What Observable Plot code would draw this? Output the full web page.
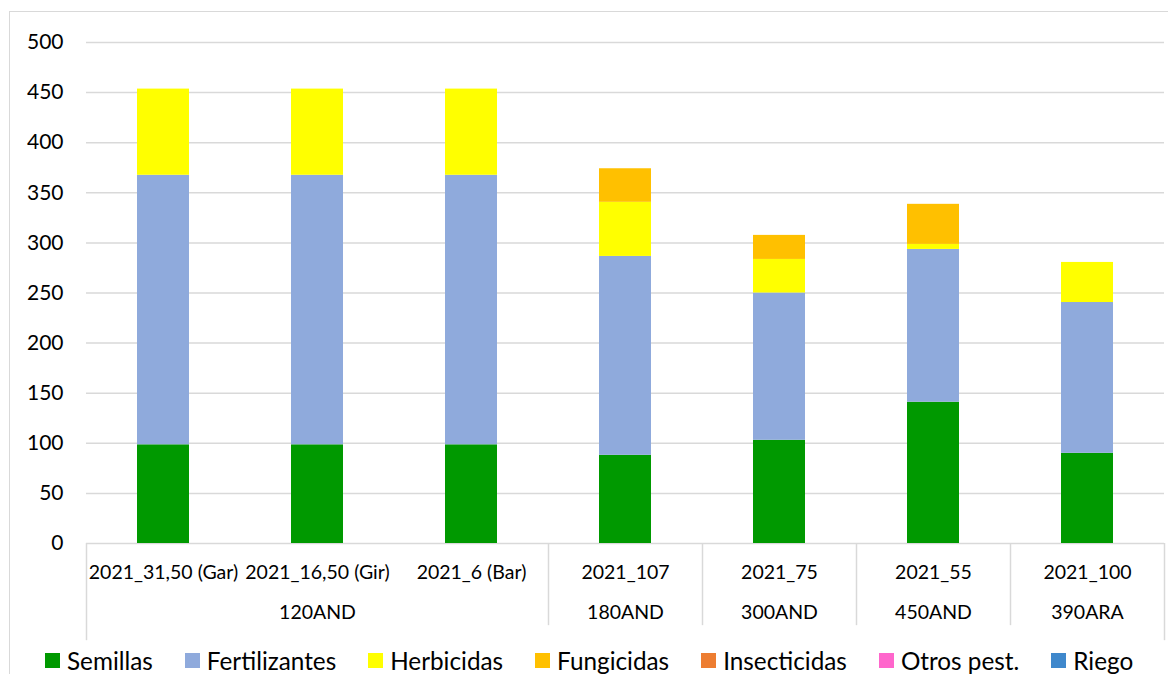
<!DOCTYPE html>
<html><head><meta charset="utf-8">
<script src="https://cdn.jsdelivr.net/npm/d3@7"></script>
<script src="https://cdn.jsdelivr.net/npm/@observablehq/plot@0.6"></script>
<style>
body{margin:0;background:#fff;font-family:Lato,sans-serif;}
#wrap{position:relative;width:1168px;height:674px;overflow:hidden;background:#fff;}
#frame{position:absolute;left:9px;top:11px;width:1200px;height:700px;border:1px solid #d9d9d9;}
#chart{position:absolute;left:0;top:0;}
#legend{position:absolute;left:45px;top:646px;display:flex;gap:32px;font-size:24.3px;color:#000;white-space:nowrap;}
.item{display:flex;align-items:center;gap:7px;}
.sw{width:15px;height:15px;display:inline-block;}
</style></head><body>
<div id="wrap"><div id="frame"></div><div id="chart"></div><div id="legend"></div></div>
<script>
const categories = ["2021_31,50 (Gar)", "2021_16,50 (Gir)", "2021_6 (Bar)", "2021_107", "2021_75", "2021_55", "2021_100"];
const groups = ["120AND", "120AND", "120AND", "180AND", "300AND", "450AND", "390ARA"];
const seriesNames = ["Semillas", "Fertilizantes", "Herbicidas", "Fungicidas", "Insecticidas", "Otros pest.", "Riego"];
const seriesColors = ["#009900", "#8faadc", "#ffff00", "#ffc000", "#ed7d31", "#ff66cc", "#3f88cc"];
const semillas      = [98.5, 98.5, 98.5, 88, 103, 141, 90];
const fertilizantes = [269, 269, 269, 198.5, 147, 152.5, 150.5];
const herbicidas    = [86, 86, 86, 54, 33.5, 5, 40];
const fungicidas    = [0, 0, 0, 33.5, 24, 40, 0];
const insecticidas  = [0, 0, 0, 0, 0, 0, 0];
const otrosPest     = [0, 0, 0, 0, 0, 0, 0];
const riego         = [0, 0, 0, 0, 0, 0, 0];
const yTicks = [0, 50, 100, 150, 200, 250, 300, 350, 400, 450, 500];

const seriesValues = [semillas, fertilizantes, herbicidas, fungicidas, insecticidas, otrosPest, riego];
const rows = [];
seriesNames.forEach((s, si) => categories.forEach((c, ci) => rows.push({cat: c, series: s, value: seriesValues[si][ci]})));

// group spans
const groupList = [];
groups.forEach((g, i) => {
  const last = groupList[groupList.length - 1];
  if (last && last.name === g) last.members.push(categories[i]);
  else groupList.push({name: g, members: [categories[i]]});
});
groupList.forEach(g => { g.first = g.members[0]; g.mid = g.members[Math.floor(g.members.length / 2)]; });

const W = 1168, H = 645, mL = 86, mR = 4, mT = 42, mB = 102;
const step = (W - mL - mR) / categories.length;
const gap = 0.66;

const plot = Plot.plot({
  width: W, height: H,
  marginLeft: mL, marginRight: mR, marginTop: mT, marginBottom: mB,
  style: {fontFamily: "Lato, sans-serif", background: "transparent", color: "#000"},
  x: {domain: categories, paddingInner: gap, paddingOuter: gap / 2, axis: null},
  y: {domain: [0, 500], axis: null},
  color: {domain: seriesNames, range: seriesColors},
  marks: [
    Plot.ruleY(yTicks, {stroke: "#d9d9d9", strokeWidth: 1.5}),
    Plot.barY(rows, {x: "cat", y: "value", fill: "series"}),
    Plot.ruleX(groupList, {x: "first", dx: -step / 2, y1: 0, y2: d => d.first === categories[0] ? -97 : -82, stroke: "#d9d9d9", strokeWidth: 1.5}),
    Plot.ruleX([categories[categories.length - 1]], {x: d => d, dx: step / 2, y1: 0, y2: -97, stroke: "#d9d9d9", strokeWidth: 1.5}),
    Plot.text(yTicks, {y: d => d, text: d => String(d), frameAnchor: "left", textAnchor: "end", dx: -23, fontSize: 21, fill: "#000"}),
    Plot.text(categories, {x: d => d, text: d => d, frameAnchor: "bottom", dy: 35, fontSize: 19.5, fill: "#000"}),
    Plot.text(groupList, {x: "mid", text: "name", frameAnchor: "bottom", dy: 75, fontSize: 19.5, fill: "#000"})
  ]
});
document.getElementById("chart").appendChild(plot);

const legend = d3.select("#legend");
seriesNames.forEach((s, i) => {
  const it = legend.append("div").attr("class", "item");
  it.append("span").attr("class", "sw").style("background", seriesColors[i]);
  it.append("span").text(s);
});
</script>
</body></html>
